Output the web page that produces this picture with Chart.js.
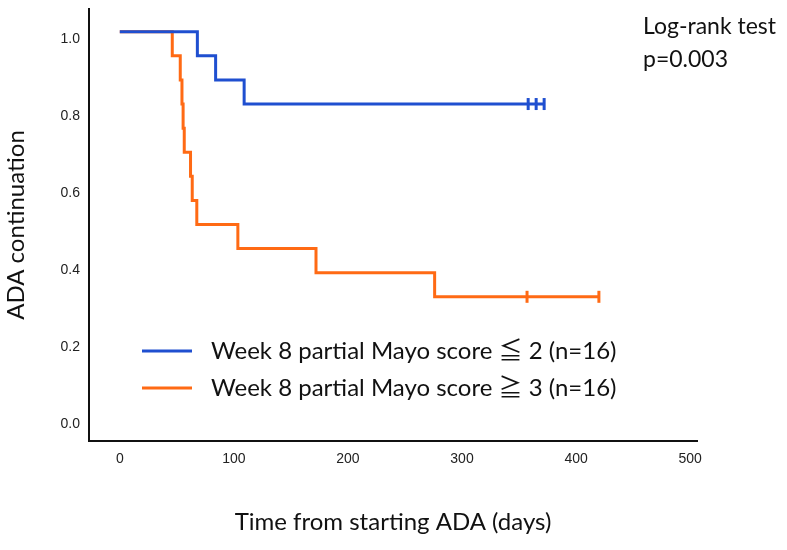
<!DOCTYPE html>
<html>
<head>
<meta charset="utf-8">
<script src="https://cdn.jsdelivr.net/npm/chart.js@4.4.1/dist/chart.umd.min.js"></script>
<style>
  html, body { margin: 0; padding: 0; background: #fff; }
  #wrap { width: 787px; height: 550px; position: relative; }
</style>
</head>
<body>
<div id="wrap"><canvas id="kmChart" width="787" height="550"></canvas></div>
<script>
// Week 8 partial Mayo score <= 2 (blue)
const lowDays = [0, 68, 84, 109, 372];
const lowSurv = [1.0, 0.9375, 0.875, 0.8125, 0.8125];
const lowCensorDays = [358, 365, 372];
const lowCensorSurv = [0.8125, 0.8125, 0.8125];

// Week 8 partial Mayo score >= 3 (orange)
const highDays = [0, 46, 53, 54.5, 55.5, 56.5, 62, 63.5, 67.5, 103.5, 172, 276, 420];
const highSurv = [1.0, 0.9375, 0.875, 0.8125, 0.75, 0.6875, 0.625, 0.5625, 0.5, 0.4375, 0.375, 0.3125, 0.3125];
const highCensorDays = [357, 420];
const highCensorSurv = [0.3125, 0.3125];

const xTicks = [0, 100, 200, 300, 400, 500];
const yTicks = [0, 0.2, 0.4, 0.6, 0.8, 1.0];
const seriesLabels = ['Week 8 partial Mayo score \u2266 2 (n=16)', 'Week 8 partial Mayo score \u2267 3 (n=16)'];
const seriesColors = ['#1f4fd0', '#ff6a14'];
const noteLines = ['Log-rank test', 'p=0.003'];

const textFont = 'Lato, "Noto Sans CJK JP", sans-serif';
const tickFont = { family: '"Liberation Sans", Arial, sans-serif', size: 14 };

function toPoints(xs, ys) {
  return xs.map((x, i) => ({ x: x, y: ys[i] }));
}

// legend drawn inside the plot, like the original
const kmLegend = {
  id: 'kmLegend',
  afterDraw(chart) {
    const { ctx, chartArea } = chart;
    ctx.save();
    ctx.font = '24px ' + textFont;
    ctx.textBaseline = 'middle';
    ctx.fillStyle = '#111';
    seriesLabels.forEach((label, i) => {
      const y = chartArea.bottom - 90 + i * 37;
      ctx.strokeStyle = seriesColors[i];
      ctx.lineWidth = 3;
      ctx.beginPath();
      ctx.moveTo(chartArea.left + 53, y);
      ctx.lineTo(chartArea.left + 103, y);
      ctx.stroke();
      ctx.fillText(label, chartArea.left + 122, y);
    });
    ctx.restore();
  }
};

const logRankNote = {
  id: 'logRankNote',
  afterDraw(chart) {
    const { ctx, chartArea } = chart;
    ctx.save();
    ctx.font = '23px ' + textFont;
    ctx.textBaseline = 'middle';
    ctx.fillStyle = '#111';
    noteLines.forEach((line, i) => {
      ctx.fillText(line, chartArea.right - 54, 27 + i * 33);
    });
    ctx.restore();
  }
};

const ctx = document.getElementById('kmChart');
new Chart(ctx, {
  type: 'line',
  data: {
    datasets: [
      {
        label: seriesLabels[0],
        data: toPoints(lowDays, lowSurv),
        borderColor: seriesColors[0],
        borderWidth: 3,
        stepped: 'before',
        pointRadius: 0,
        fill: false
      },
      {
        label: seriesLabels[1],
        data: toPoints(highDays, highSurv),
        borderColor: seriesColors[1],
        borderWidth: 3,
        stepped: 'before',
        pointRadius: 0,
        fill: false
      },
      {
        label: 'censored low',
        data: toPoints(lowCensorDays, lowCensorSurv),
        showLine: false,
        pointStyle: 'line',
        rotation: 90,
        pointRadius: 6,
        pointBorderWidth: 3,
        borderColor: seriesColors[0],
        backgroundColor: seriesColors[0]
      },
      {
        label: 'censored high',
        data: toPoints(highCensorDays, highCensorSurv),
        showLine: false,
        pointStyle: 'line',
        rotation: 90,
        pointRadius: 6,
        pointBorderWidth: 3,
        borderColor: seriesColors[1],
        backgroundColor: seriesColors[1]
      }
    ]
  },
  options: {
    responsive: false,
    animation: false,
    layout: { padding: { top: -4, right: 90, bottom: 0, left: 0 } },
    plugins: {
      legend: { display: false },
      tooltip: { enabled: false }
    },
    scales: {
      x: {
        type: 'linear',
        min: -27,
        max: 506,
        afterFit(scale) {
          scale.height = 109;
          scale.paddingLeft = 0;
          scale.paddingRight = 0;
        },
        afterBuildTicks(scale) { scale.ticks = xTicks.map(v => ({ value: v })); },
        grid: { display: false, drawTicks: false },
        border: { display: true, color: '#111', width: 2 },
        ticks: {
          padding: 10,
          color: '#222',
          font: tickFont,
          callback: v => String(v)
        },
        title: {
          display: true,
          text: 'Time from starting ADA (days)',
          color: '#111',
          font: { family: textFont, size: 24 },
          padding: { top: 0, bottom: 13 }
        }
      },
      y: {
        type: 'linear',
        min: -0.0615,
        max: 1.059,
        afterFit(scale) {
          scale.width = 89;
          scale.paddingTop = 0;
          scale.paddingBottom = 0;
        },
        afterBuildTicks(scale) { scale.ticks = yTicks.map(v => ({ value: v })); },
        grid: { display: false, drawTicks: false },
        border: { display: true, color: '#111', width: 2 },
        ticks: {
          padding: 9,
          labelOffset: 7,
          color: '#222',
          font: tickFont,
          callback: v => v.toFixed(1)
        },
        title: {
          display: true,
          text: 'ADA continuation',
          color: '#111',
          font: { family: textFont, size: 24 },
          padding: { top: 2, bottom: 0 }
        }
      }
    }
  },
  plugins: [kmLegend, logRankNote]
});
</script>
</body>
</html>
